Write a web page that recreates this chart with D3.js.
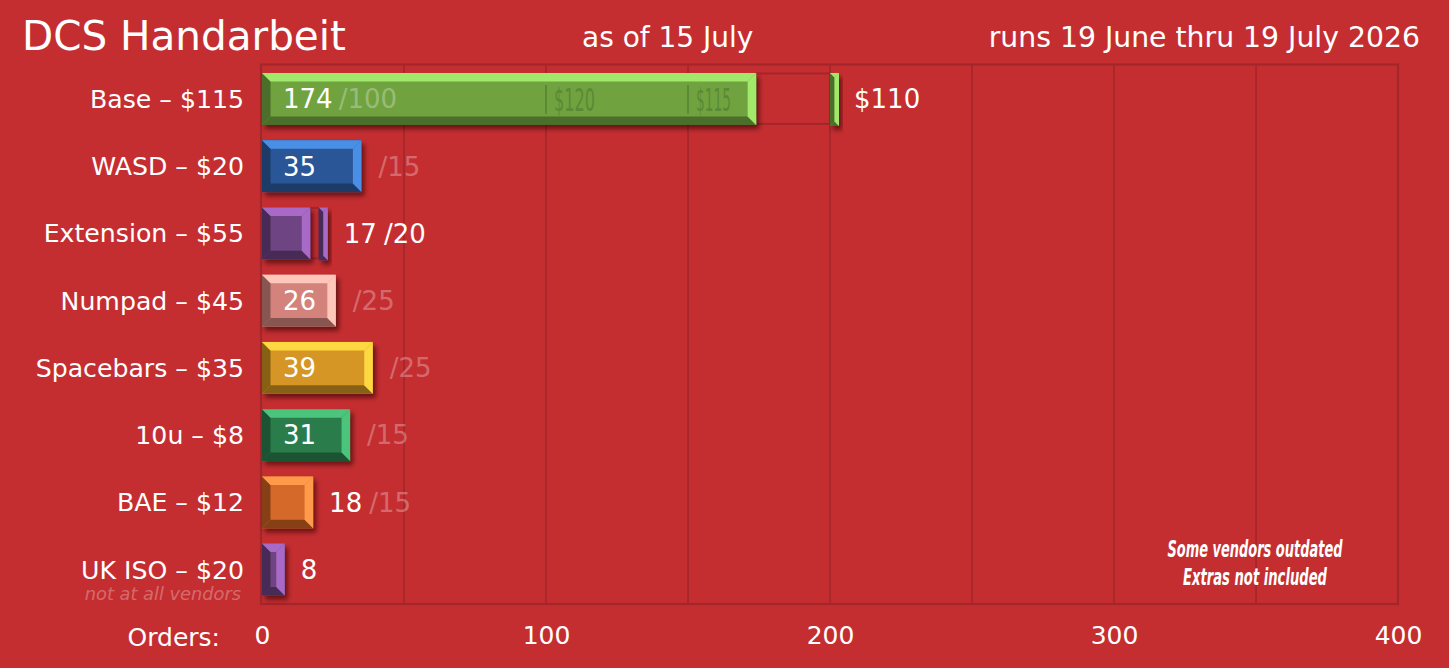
<!DOCTYPE html>
<html><head><meta charset="utf-8">
<script src="https://cdn.jsdelivr.net/npm/d3@7/dist/d3.min.js"></script>
<style>
html,body{margin:0;padding:0;background:#c52e31;}
svg{display:block;}
</style></head>
<body>
<svg id="chart" width="1449" height="668"></svg>
<script>
// ---- data ----
const categories = ["Base – $115", "WASD – $20", "Extension – $55", "Numpad – $45", "Spacebars – $35", "10u – $8", "BAE – $12", "UK ISO – $20"];
const orders = [174, 35, 17, 26, 39, 31, 18, 8];
const minimums = [100, 15, 20, 25, 25, 15, 15, null];
const nextGoals = [200, null, 20, null, null, null, null, null];
const nextGoalLabels = ["$110", "", "", "", "", "", "", ""];
const tierValues = [100, 150];
const tierLabels = ["$120", "$115"];
const xTicks = [0, 100, 200, 300, 400];
const gridValues = [50, 100, 150, 200, 250, 300, 350];
const palette = [
  {main:"#6fa33f", light:"#a2e86a", dark:"#4b6e2a"},
  {main:"#2b5797", light:"#4a8fe6", dark:"#1d3a66"},
  {main:"#6e4582", light:"#a86ac6", dark:"#472a57"},
  {main:"#d4827c", light:"#ffc6ba", dark:"#885651"},
  {main:"#d59627", light:"#fdd841", dark:"#876018"},
  {main:"#2a7d4b", light:"#4cc57b", dark:"#1b5232"},
  {main:"#d5692c", light:"#ff9a4b", dark:"#874119"},
  {main:"#6e4582", light:"#a86ac6", dark:"#472a57"}
];

const svg = d3.select("#chart");
const bg = "#c52e31";
const gridColor = "#a3262a";
const fadeWhite = "rgba(255,255,255,0.3)";
const mainFont = "'DejaVu Sans', sans-serif";
const condFont = "'DejaVu Sans Condensed', sans-serif";

svg.append("rect").attr("width",1449).attr("height",668).attr("fill",bg);

const defs = svg.append("defs");
const f = defs.append("filter").attr("id","shadow").attr("x","-20%").attr("y","-20%").attr("width","160%").attr("height","160%");
f.append("feDropShadow").attr("dx",3).attr("dy",4).attr("stdDeviation",2.5).attr("flood-color","#2a0505").attr("flood-opacity",0.6);

const x = d3.scaleLinear().domain([0,400]).range([262,1398]);
const y = d3.scaleBand().domain(categories).range([64.5,604]).paddingInner(0.228).paddingOuter(0.126);

// grid
svg.append("g").selectAll("line").data(gridValues).join("line")
  .attr("x1",d=>x(d)).attr("x2",d=>x(d)).attr("y1",64.5).attr("y2",604)
  .attr("stroke",gridColor).attr("stroke-width",1.6);
svg.append("rect").attr("x",x(0)-1).attr("y",64.5).attr("width",x(400)-x(0)+1).attr("height",604-64.5)
  .attr("fill","none").attr("stroke",gridColor).attr("stroke-width",2.2);

// title texts
svg.append("text").attr("x",22).attr("y",50).text("DCS Handarbeit")
  .attr("fill","#fff").attr("font-family",mainFont).attr("font-size",40.5);
svg.append("text").attr("x",582).attr("y",47).text("as of 15 July")
  .attr("fill","#fff").attr("font-family",mainFont).attr("font-size",28);
svg.append("text").attr("x",1420).attr("y",47).attr("text-anchor","end").text("runs 19 June thru 19 July 2026")
  .attr("fill","#fff").attr("font-family",mainFont).attr("font-size",28.3);

// bevel bar
function bevelBar(g, x0, x1, y0, y1, col){
  const w = x1 - x0;
  const b = Math.min(8.5, w/2);
  const gg = g.append("g").attr("filter","url(#shadow)");
  gg.append("rect").attr("x",x0).attr("y",y0).attr("width",w).attr("height",y1-y0).attr("fill",col.main);
  const poly = (pts, c) => gg.append("polygon").attr("points", pts.map(p=>p.join(",")).join(" ")).attr("fill", c);
  poly([[x0,y0],[x0+b,y0+b],[x0+b,y1-b],[x0,y1]], col.dark);
  poly([[x0,y1],[x0+b,y1-b],[x1-b,y1-b],[x1,y1]], col.dark);
  poly([[x0,y0],[x1,y0],[x1-b,y0+b],[x0+b,y0+b]], col.light);
  poly([[x1,y0],[x1,y1],[x1-b,y1-b],[x1-b,y0+b]], col.light);
}

const markerW = 9;
const bars = svg.append("g");
categories.forEach((cat,i)=>{
  const y0 = y(cat), y1 = y(cat)+y.bandwidth(), cy = y0 + y.bandwidth()/2;
  const col = palette[i];
  const xe = x(orders[i]);
  let outEnd = xe;
  if (nextGoals[i] != null){
    const gx = x(nextGoals[i]);
    bars.append("rect").attr("x",xe).attr("y",y0+0.5).attr("width",gx-xe).attr("height",y.bandwidth()-1.5)
      .attr("fill","none").attr("stroke",gridColor).attr("stroke-width",2);
    bevelBar(bars, gx, gx+markerW, y0, y1+1, col);
    outEnd = gx + markerW;
  }
  bevelBar(bars, x(0), xe, y0, y1, col);
  if (i === 0){
    tierValues.forEach((t,k)=>{
      bars.append("line").attr("x1",x(t)).attr("x2",x(t)).attr("y1",y0+12).attr("y2",y1-11)
        .attr("stroke","#5a8a34").attr("stroke-width",2);
      bars.append("text").attr("x",x(t)+8).attr("y",cy+12).text(tierLabels[k])
        .attr("fill","#5a8a34").attr("font-family",condFont).attr("font-size",32)
        .attr("textLength", k===0 ? 41 : 35).attr("lengthAdjust","spacingAndGlyphs");
    });
  }
  bars.append("text").attr("x",244).attr("y",cy).attr("dy","0.36em").attr("text-anchor","end").text(cat)
    .attr("fill","#fff").attr("font-family",mainFont).attr("font-size",25.2);
  const inside = (xe - x(0)) > 60;
  const vx = inside ? x(0)+21 : outEnd + 16;
  const vt = bars.append("text").attr("x",vx).attr("y",cy).attr("dy","0.36em").text(orders[i])
    .attr("fill","#fff").attr("font-family",mainFont).attr("font-size",26);
  if (minimums[i] != null){
    const met = orders[i] >= minimums[i];
    const vw = vt.node().getComputedTextLength();
    let mx;
    if (inside && (xe - x(0)) > 150) mx = vx + vw + 6;
    else if (inside) mx = xe + 17;
    else mx = vx + vw + 7;
    bars.append("text").attr("x",mx).attr("y",cy).attr("dy","0.36em").text("/" + minimums[i])
      .attr("fill", met ? fadeWhite : "#fff").attr("font-family",mainFont).attr("font-size",26);
  }
  if (nextGoalLabels[i]){
    bars.append("text").attr("x",outEnd+15).attr("y",cy).attr("dy","0.36em").text(nextGoalLabels[i])
      .attr("fill","#fff").attr("font-family",mainFont).attr("font-size",26);
  }
});

svg.append("text").attr("x",241).attr("y",600).attr("text-anchor","end").text("not at all vendors")
  .attr("fill",fadeWhite).attr("font-family",mainFont).attr("font-style","italic").attr("font-size",17.8);

// axis
const axisG = svg.append("g").attr("transform","translate(0,604)");
const axis = d3.axisBottom(x).tickValues(xTicks).tickSize(0).tickPadding(22).tickFormat(d3.format("d"));
axisG.call(axis);
axisG.select(".domain").remove();
axisG.selectAll("text").attr("fill","#fff").attr("font-family",mainFont).attr("font-size",25);
svg.append("text").attr("x",220).attr("y",646).attr("text-anchor","end").text("Orders:")
  .attr("fill","#fff").attr("font-family",mainFont).attr("font-size",25);

// footnote
const fn = svg.append("text").attr("text-anchor","middle").attr("fill","#fff")
  .attr("font-family",condFont).attr("font-style","italic").attr("font-weight","bold").attr("font-size",23);
fn.append("tspan").attr("x",1255).attr("y",557).attr("textLength",175).attr("lengthAdjust","spacingAndGlyphs").text("Some vendors outdated");
fn.append("tspan").attr("x",1255).attr("y",585).attr("textLength",144).attr("lengthAdjust","spacingAndGlyphs").text("Extras not included");
</script>
</body></html>
